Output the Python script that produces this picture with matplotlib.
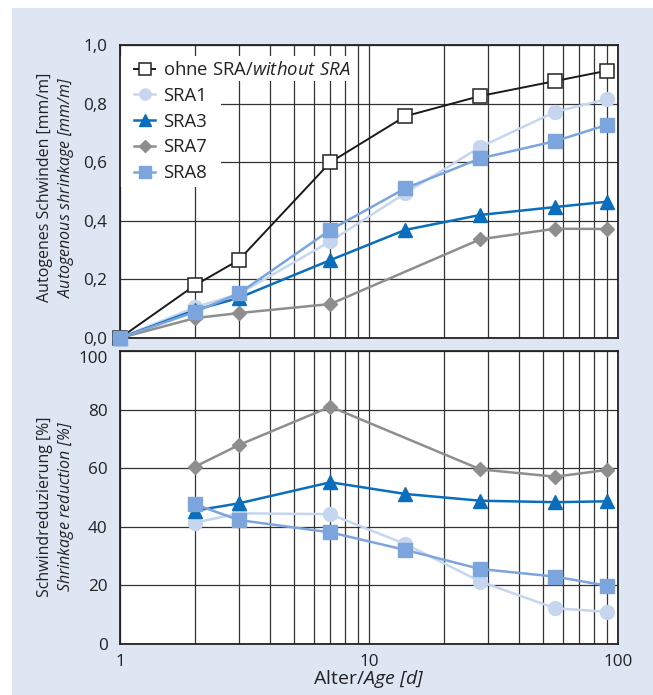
import matplotlib
matplotlib.use("Agg")
import matplotlib.pyplot as plt
from matplotlib.ticker import FixedLocator, FuncFormatter, NullFormatter, LogLocator
from matplotlib.patches import Rectangle

plt.rcParams['font.family'] = ['Open Sans', 'DejaVu Sans']
plt.rcParams['mathtext.fontset'] = 'custom'
plt.rcParams['mathtext.rm'] = 'Open Sans:italic'
plt.rcParams['mathtext.it'] = 'Open Sans:italic'

# ---- data ----
days = [1, 2, 3, 7, 14, 28, 56, 90]
days_sra7 = [1, 2, 3, 7, 28, 56, 90]
shr_ohne = [0.0, 0.18, 0.266, 0.60, 0.757, 0.826, 0.877, 0.912]
shr_sra1 = [0.0, 0.105, 0.15, 0.33, 0.495, 0.652, 0.772, 0.815]
shr_sra3 = [0.0, 0.095, 0.137, 0.266, 0.369, 0.42, 0.447, 0.465]
shr_sra7 = [0.0, 0.068, 0.085, 0.116, 0.337, 0.373, 0.372]
shr_sra8 = [0.0, 0.089, 0.152, 0.369, 0.511, 0.613, 0.672, 0.727]

rdays = [2, 3, 7, 14, 28, 56, 90]
rdays_sra7 = [2, 3, 7, 28, 56, 90]
red_sra1 = [41.4, 44.6, 44.3, 34.1, 21.3, 12.2, 11.0]
red_sra3 = [45.5, 48.0, 55.2, 51.2, 48.9, 48.4, 48.7]
red_sra7 = [60.5, 67.9, 81.0, 59.6, 57.1, 59.4]
red_sra8 = [47.7, 42.3, 38.1, 32.1, 25.6, 23.0, 19.9]

names = ["ohne SRA/$\\mathit{without\\ SRA}$", "SRA1", "SRA3", "SRA7", "SRA8"]
xticks = [1, 10, 100]

c_ohne = '#1a1a1a'
c1 = '#c6d6ef'
c3 = '#0a6ebd'
c7 = '#8e8e8e'
c8 = '#7ba5dc'
tc = '#222222'

fig = plt.figure(figsize=(6.53, 6.95), dpi=100)
fig.patches.append(Rectangle((12/653, 0), 1, (695-8)/695, transform=fig.transFigure,
                             facecolor='#dfe6f3', edgecolor='none', zorder=-10))

ax1 = fig.add_axes([120/653, 357/695, 498/653, 293/695])
ax2 = fig.add_axes([120/653, 51/695, 498/653, 293/695])

def style(ax):
    ax.set_xscale('log')
    ax.set_xlim(1, 100)
    ax.xaxis.set_major_locator(FixedLocator(xticks))
    ax.xaxis.set_minor_locator(LogLocator(base=10, subs=range(2, 10)))
    ax.xaxis.set_minor_formatter(NullFormatter())
    ax.grid(True, which='both', color='#333333', lw=0.9)
    ax.set_axisbelow(True)
    ax.tick_params(which='both', length=0, labelsize=12.3, colors=tc)
    ax.tick_params(axis='y', pad=9)
    ax.tick_params(axis='x', pad=7)
    for s in ax.spines.values():
        s.set_color('#222222')
        s.set_linewidth(1.3)

style(ax1)
style(ax2)

ms = 10
kw_ohne = dict(color=c_ohne, lw=1.4, marker='s', ms=ms, mfc='white', mec='#222222', mew=1.1)
kw1 = dict(color=c1, lw=1.8, marker='o', ms=ms, mec=c1)
kw3 = dict(color=c3, lw=1.8, marker='^', ms=ms, mec=c3)
kw7 = dict(color=c7, lw=1.8, marker='D', ms=7.5, mec=c7)
kw8 = dict(color=c8, lw=1.8, marker='s', ms=ms, mec=c8)

ax1.plot(days, shr_ohne, label=names[0], clip_on=False, zorder=3, **kw_ohne)
l1, = ax1.plot(days, shr_sra1, label=names[1], clip_on=False, zorder=3, **kw1)
l3, = ax1.plot(days, shr_sra3, label=names[2], clip_on=False, zorder=3, **kw3)
l7, = ax1.plot(days_sra7, shr_sra7, label=names[3], clip_on=False, zorder=3, **kw7)
l8, = ax1.plot(days, shr_sra8, label=names[4], clip_on=False, zorder=3, **kw8)
l7.set_zorder(2.9)

ax1.set_ylim(0, 1.0)
ax1.set_yticks([0, 0.2, 0.4, 0.6, 0.8, 1.0])
ax1.yaxis.set_major_formatter(FuncFormatter(lambda v, p: f"{v:.1f}".replace('.', ',')))
ax1.xaxis.set_major_formatter(NullFormatter())

leg = ax1.legend(loc='upper left', bbox_to_anchor=(14/498, 1 - 16/293), frameon=False,
                 fontsize=13.3, handlelength=1.15, handletextpad=0.4, labelspacing=0.42,
                 borderpad=0.0, borderaxespad=0.0, markerscale=0.8)
leg.set_zorder(6)
for t in leg.get_texts():
    t.set_color(tc)

ax2.plot(rdays_sra7, red_sra7, zorder=3, clip_on=False, **kw7)
ax2.plot(rdays, red_sra1, zorder=3, clip_on=False, **kw1)
ax2.plot(rdays, red_sra3, zorder=3, clip_on=False, **kw3)
ax2.plot(rdays, red_sra8, zorder=3, clip_on=False, **kw8)
ax2.set_ylim(0, 100)
ax2.set_yticks([0, 20, 40, 60, 80, 100])
ax2.xaxis.set_major_formatter(FuncFormatter(lambda v, p: f"{v:.0f}"))
ax2.yaxis.get_major_ticks()[-1].label1.set_va('top')

ax1.set_ylabel("Autogenes Schwinden [mm/m]\n$\\mathit{Autogenous\\ shrinkage\\ [mm/m]}$",
               fontsize=11.5, color=tc, linespacing=1.25)
ax1.yaxis.set_label_coords(-0.088, 0.515)
ax2.set_ylabel("Schwindreduzierung [%]\n$\\mathit{Shrinkage\\ reduction\\ [\\%]}$",
               fontsize=11.5, color=tc, linespacing=1.25)
ax2.yaxis.set_label_coords(-0.088, 0.47)
ax2.set_xlabel("Alter/$\\mathit{Age\\ [d]}$", fontsize=14, color=tc, labelpad=-1)

# white backing behind the legend rows (L-shaped, as in the original)
fig.canvas.draw()
r = fig.canvas.get_renderer()
texts = leg.get_texts()
tb = [t.get_window_extent(r) for t in texts]
lb = leg.get_window_extent(r)
ax_bb = ax1.get_window_extent(r)
inv = ax1.transAxes.inverted()
x0 = ax_bb.x0
top = lb.y1 + 5
split = (tb[0].y0 + tb[1].y1) / 2 + 2
bottom = lb.y0 - 5
right1 = tb[0].x1 + 6
right2 = max(b.x1 for b in tb[1:]) + 14
for (xa, ya, xb, yb) in [(x0, split, right1, top), (x0, bottom, right2, split)]:
    (ax_, ay_), (bx_, by_) = inv.transform([(xa, ya), (xb, yb)])
    ax1.add_patch(Rectangle((ax_, ay_), bx_ - ax_, by_ - ay_, transform=ax1.transAxes,
                            facecolor='white', edgecolor='none', zorder=2.5))

fig.savefig('out.png', dpi=100)
